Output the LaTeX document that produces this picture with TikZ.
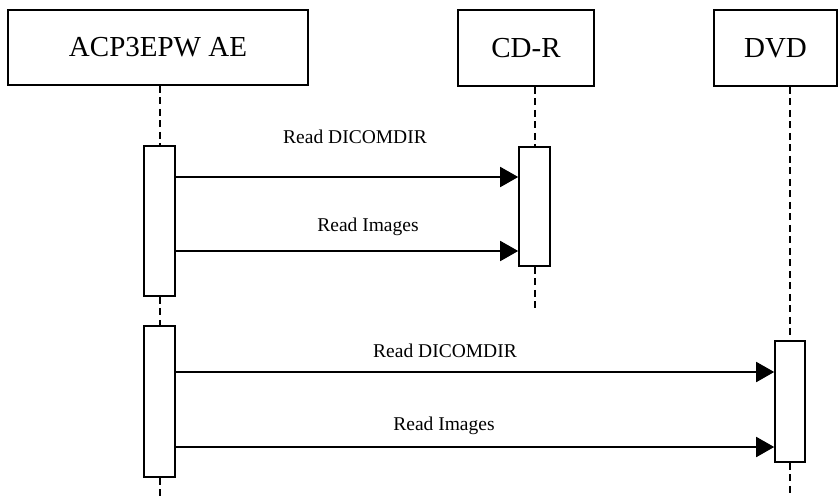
\documentclass[tikz,border=0pt]{standalone}
\usepackage{fontspec}
\setmainfont{Liberation Serif}
\usetikzlibrary{arrows.meta}
\begin{document}
\begin{tikzpicture}[x=1pt,y=-1pt,
  hdr/.style={draw,line width=1.6pt,inner sep=0pt,font=\fontsize{29}{33}\selectfont},
  act/.style={draw,fill=white,line width=1.6pt,inner sep=0pt,minimum width=31pt},
  life/.style={line width=2pt,dash pattern=on 7pt off 4.5pt},
  msg/.style={line width=1.8pt,-{Triangle[length=18pt,width=20pt]}},
  lbl/.style={inner sep=0pt,font=\fontsize{19.5}{23}\selectfont}]
\useasboundingbox (0,0) rectangle (838,496);
% headers
\node[hdr,minimum width=300pt,minimum height=75pt] (acp) at (158,47.5) {ACP3EPW AE};
\node[hdr,minimum width=136pt,minimum height=76pt] (cdr) at (526,48) {CD-R};
\node[hdr,minimum width=123pt,minimum height=76pt] (dvd) at (775.5,48) {DVD};
% activation boxes
\node[act,minimum height=150pt] (a1) at (159.5,221) {};
\node[act,minimum height=151pt] (a2) at (159.5,401.5) {};
\node[act,minimum height=119pt] (c1) at (534.5,206.5) {};
\node[act,minimum height=121pt,minimum width=30pt] (d1) at (790,401.5) {};
% lifeline ends
\coordinate (acpend) at (159.5,496);
\coordinate (cdrend) at (534.5,311);
\coordinate (dvdend) at (790,496);
% lifelines
\draw[life] (acp.south -| a1.north) -- (a1.north);
\draw[life] (a1.south) -- (a2.north);
\draw[life] (a2.south) -- (acpend);
\draw[life] (cdr.south -| c1.north) -- (c1.north);
\draw[life] (c1.south) -- (cdrend);
\draw[life] (dvd.south -| d1.north) -- (d1.north);
\draw[life] (d1.south) -- (dvdend);
% message rows
\coordinate (r1) at (0,177);
\coordinate (r2) at (0,251);
\coordinate (r3) at (0,372);
\coordinate (r4) at (0,447);
\draw[msg] (a1.east |- r1) -- (c1.west |- r1);
\draw[msg] (a1.east |- r2) -- (c1.west |- r2);
\draw[msg] (a2.east |- r3) -- (d1.west |- r3);
\draw[msg] (a2.east |- r4) -- (d1.west |- r4);
% labels
\node[lbl] (l1) at (355,137) {Read DICOMDIR};
\node[lbl] (l2) at (368,227) {Read Images};
\node[lbl] (l3) at (445,351) {Read DICOMDIR};
\node[lbl] (l4) at (444,426) {Read Images};
\end{tikzpicture}
\end{document}
